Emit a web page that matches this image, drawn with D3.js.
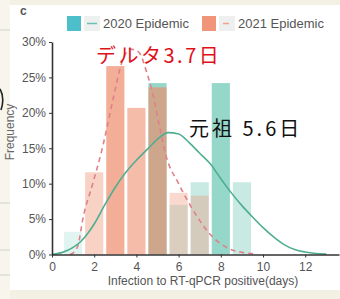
<!DOCTYPE html>
<html>
<head>
<meta charset="utf-8">
<script src="https://cdn.jsdelivr.net/npm/d3@7"></script>
<style>
  html, body { margin: 0; padding: 0; background: #f3f1e4; }
  svg { display: block; }
</style>
</head>
<body>
<svg id="chart" width="340" height="299"></svg>
<script>
// days on the x axis, one bar per day
const days = [1, 2, 3, 4, 5, 6, 7, 8, 9];
const freq2020 = [3.2, 0, 0, 0, 24.2, 7, 10.2, 24.2, 10.2];
const freq2021 = [0, 11.6, 26.6, 20.7, 23.6, 8.7, 8.3, 0, 0];

// fitted curves as [day, %]
const fit2020 = [
  [0, 0], [0.5, 0.3], [1, 1], [1.35, 1.8], [1.7, 3], [2, 4.3], [2.5, 7], [3, 9.5],
  [3.5, 11.6], [4, 13.3], [4.5, 14.8], [5, 16.3], [5.5, 17.2], [6, 17], [6.5, 15.8],
  [7, 14.3], [7.5, 12.8], [8, 10.7], [8.5, 8.7], [9, 6.9], [9.5, 5.3], [10, 3.8],
  [10.5, 2.5], [11, 1.4], [11.5, 0.7], [12, 0.35], [12.5, 0.15], [13, 0.05]];
const fit2021 = [
  [0.85, 0], [1.1, 0.5], [1.25, 1.5], [1.46, 5], [1.93, 10], [2.36, 14.7], [2.9, 22],
  [3.3, 27], [3.7, 29], [4.1, 28.6], [4.5, 25.6], [4.75, 23], [5.1, 18], [5.4, 14],
  [6, 10], [6.5, 7.2], [7, 4.8], [7.45, 3], [8, 1.5], [8.4, 0.8], [9, 0.3], [9.7, 0.1]];

const yTicks = [0, 5, 10, 15, 20, 25, 30];
const xTicks = [0, 2, 4, 6, 8, 10, 12];
const series = ['2020 Epidemic', '2021 Epidemic'];

const svg = d3.select('#chart');
const font = '"Liberation Sans", Arial, sans-serif';

// paper background + white panel
svg.append('rect').attr('x', 0).attr('y', 0).attr('width', 10).attr('height', 299)
  .attr('fill', '#f7f5ec');
[30, 203, 250, 275].forEach((y) => {
  svg.append('line').attr('x1', 0).attr('x2', 10).attr('y1', y).attr('y2', y)
    .attr('stroke', '#c9c9c4').attr('stroke-width', 0.8);
});
svg.append('rect').attr('x', 10).attr('y', 5).attr('width', 330).attr('height', 285)
  .attr('fill', '#ffffff');
svg.append('path').attr('d', 'M0,89 Q5,98 1,110')
  .attr('fill', 'none').attr('stroke', '#222').attr('stroke-width', 1.6);

const x = d3.scaleLinear().domain([0, 13.6]).range([52, 339]);
const y = d3.scaleLinear().domain([0, 30]).range([254.5, 42]);
const bw = (x(1) - x(0)) * 0.86;

const tealOp = d3.scaleLinear().domain([0, 25]).range([0.1, 0.64]);
const orangeOp = d3.scaleLinear().domain([0, 27]).range([0.15, 0.7]);

svg.selectAll('rect.b2020')
  .data(days.map((d, i) => ({ day: d, v: freq2020[i] })).filter(d => d.v > 0))
  .enter()
  .append('rect')
  .attr('class', 'b2020')
  .attr('x', d => x(d.day) - bw / 2)
  .attr('y', d => y(d.v))
  .attr('width', bw)
  .attr('height', d => y(0) - y(d.v))
  .attr('fill', '#55bfa9')
  .attr('fill-opacity', d => tealOp(d.v));

svg.selectAll('rect.b2021')
  .data(days.map((d, i) => ({ day: d, v: freq2021[i] })).filter(d => d.v > 0))
  .enter()
  .append('rect')
  .attr('class', 'b2021')
  .attr('x', d => x(d.day) - bw / 2)
  .attr('y', d => y(d.v))
  .attr('width', bw)
  .attr('height', d => y(0) - y(d.v))
  .attr('fill', '#ee8a68')
  .attr('fill-opacity', d => orangeOp(d.v));

const line = d3.line()
  .x(d => x(d[0]))
  .y(d => y(d[1]))
  .curve(d3.curveMonotoneX);

svg.append('path')
  .attr('d', line(fit2021))
  .attr('fill', 'none')
  .attr('stroke', '#e0808a')
  .attr('stroke-width', 1.6)
  .attr('stroke-dasharray', '5,4');

svg.append('path')
  .attr('d', line(fit2020))
  .attr('fill', 'none')
  .attr('stroke', '#4fae90')
  .attr('stroke-width', 1.6);

// axes
const yAxis = svg.append('g')
  .attr('transform', `translate(${x(0)},0)`)
  .call(d3.axisLeft(y).tickValues(yTicks).tickFormat(d => `${d}%`).tickSize(3).tickSizeOuter(0));
const xAxis = svg.append('g')
  .attr('transform', `translate(0,${y(0)})`)
  .call(d3.axisBottom(x).tickValues(xTicks).tickSize(3).tickSizeOuter(0));

[yAxis, xAxis].forEach((g) => {
  g.select('.domain').attr('stroke', '#333').attr('stroke-width', 1.6);
  g.selectAll('.tick line').attr('stroke', '#333');
  g.selectAll('.tick text')
    .attr('font-family', font)
    .attr('font-size', 12)
    .attr('fill', '#555');
});
xAxis.selectAll('.tick text').attr('dy', '0.9em');

svg.append('text')
  .attr('x', 203)
  .attr('y', 285)
  .attr('text-anchor', 'middle')
  .attr('font-family', font)
  .attr('font-size', 12)
  .attr('fill', '#555')
  .text('Infection to RT-qPCR positive(days)');

svg.append('text')
  .attr('transform', 'translate(14,132) rotate(-90)')
  .attr('text-anchor', 'middle')
  .attr('font-family', font)
  .attr('font-size', 12)
  .attr('fill', '#666')
  .text('Frequency');

svg.append('text')
  .attr('x', 20)
  .attr('y', 15)
  .attr('font-family', font)
  .attr('font-size', 12)
  .attr('font-weight', 'bold')
  .attr('fill', '#555')
  .text('c');

// legend
const legend = svg.selectAll('g.legend')
  .data(series)
  .enter()
  .append('g')
  .attr('class', 'legend')
  .attr('transform', (d, i) => `translate(${[67, 202][i]},16)`);

legend.append('rect')
  .attr('width', 14).attr('height', 15)
  .attr('fill', (d, i) => ['#4dbfca', '#f0957a'][i]);
legend.append('rect')
  .attr('x', 17).attr('width', 16).attr('height', 15)
  .attr('fill', '#eef0ef');
legend.append('line')
  .attr('x1', (d, i) => [20, 21][i]).attr('x2', (d, i) => [30, 27][i])
  .attr('y1', 7.5).attr('y2', 7.5)
  .attr('stroke', (d, i) => ['#6cc0b0', '#f0a090'][i])
  .attr('stroke-width', 1.5);
legend.append('text')
  .attr('x', 36).attr('y', 12)
  .attr('font-family', font)
  .attr('font-size', 13)
  .attr('fill', '#555')
  .text(d => d);

// handwritten notes
svg.append('text')
  .attr('x', 96).attr('y', 63)
  .attr('font-family', '"Noto Sans CJK JP", sans-serif')
  .attr('font-size', 20)
  .attr('letter-spacing', 2.5)
  .attr('fill', '#e0101a')
  .text('デルタ3.7日');

svg.append('text')
  .attr('x', 189).attr('y', 136)
  .attr('font-family', '"Noto Sans CJK JP", sans-serif')
  .attr('font-size', 20)
  .attr('letter-spacing', 3)
  .attr('fill', '#111')
  .text('元祖 5.6日');
</script>
</body>
</html>
